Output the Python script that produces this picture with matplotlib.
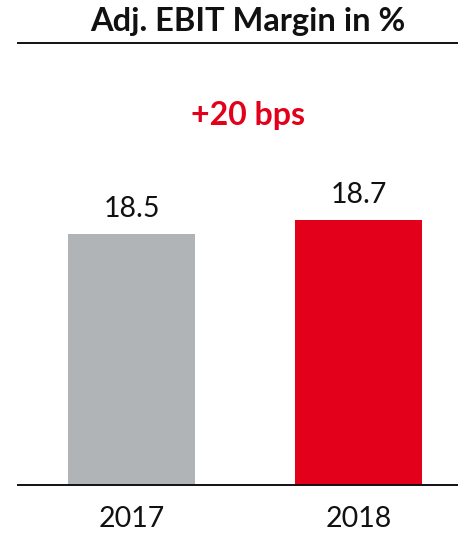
import matplotlib.pyplot as plt
from matplotlib.lines import Line2D

# ==========================================================
# DATA
# ==========================================================

years = ["2017", "2018"]
margins = [18.5, 18.7]
bar_colors = ["#B0B4B7", "#E2001A"]
delta_label = "+20 bps"
title = "Adj. EBIT Margin in %"

# ==========================================================
# FIGURE
# ==========================================================

W, H = 458, 533
plt.rcParams["font.family"] = ["Lato", "DejaVu Sans"]

fig = plt.figure(figsize=(W / 100, H / 100), dpi=100)

base_px = 485
ax = fig.add_axes([18 / W, 1 - base_px / H, 1 - 18 / W, base_px / H])

x = range(len(years))
ax.bar(x, margins, width=0.56, color=bar_colors, zorder=2)

ax.set_xlim(-0.5, 1.438)
ax.set_ylim(14.91, 14.91 + base_px / 70)

for xi, v in zip(x, margins):
    ax.annotate(
        f"{v:.1f}",
        (xi, v),
        xytext=(0, 25),
        textcoords="offset pixels",
        ha="center",
        va="center",
        fontsize=20.5,
        color="#111111",
    )

ax.set_xticks(list(x))
ax.set_xticklabels(years, fontsize=20.5, color="#111111")
ax.tick_params(axis="x", length=0, pad=15)
ax.set_yticks([])

for side in ["top", "right", "left"]:
    ax.spines[side].set_visible(False)
ax.spines["bottom"].set_linewidth(1.4)
ax.spines["bottom"].set_color("#111111")

# ==========================================================
# TITLE + DELTA
# ==========================================================

fig.text(
    248 / W, 1 - 21 / H,
    title,
    ha="center", va="center",
    fontsize=23.5, fontweight="bold", color="#111111",
)

fig.add_artist(
    Line2D([18 / W, 1], [1 - 43 / H, 1 - 43 / H],
           color="#111111", linewidth=1.4)
)

fig.text(
    248 / W, 1 - 116 / H,
    delta_label,
    ha="center", va="center",
    fontsize=23, fontweight="bold", color="#E2001A",
)

plt.savefig("out.png", dpi=100)
